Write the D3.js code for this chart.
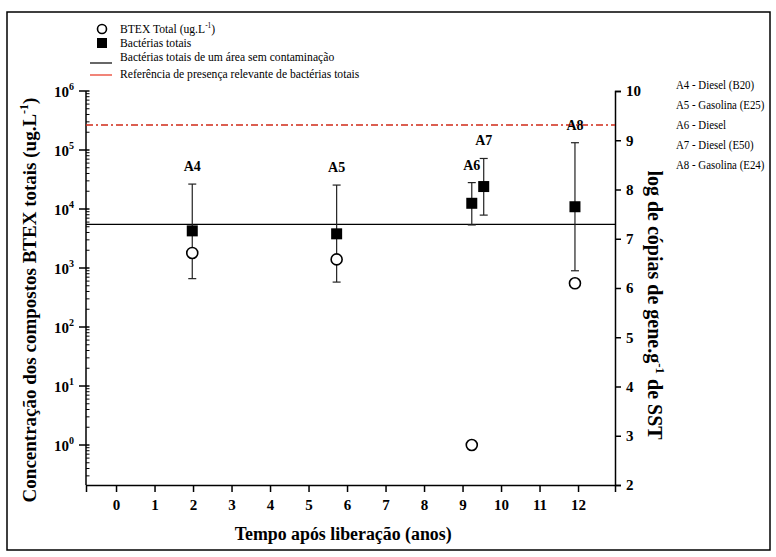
<!DOCTYPE html>
<html>
<head>
<meta charset="utf-8">
<script src="https://cdn.jsdelivr.net/npm/d3@7"></script>
<style>
  body { margin: 0; background: #fff; }
</style>
</head>
<body>
<script>
// Dados
var amostras = ["A4", "A5", "A6", "A7", "A8"];
var tempo = [1.98, 5.73, 9.24, 9.55, 11.92];
var btex = [1800, 1400, 1.0, null, 550];          // ug/L, eixo esquerdo (log)
var bacterias = [7.16, 7.10, 7.72, 8.06, 7.65];   // log copias, eixo direito
var bactMin = [6.19, 6.12, 7.28, 7.48, 6.35];
var bactMax = [8.11, 8.09, 8.14, 8.63, 8.95];
var semContaminacao = 7.29;
var referencia = 9.31;
var xTicks = [0, 1, 2, 3, 4, 5, 6, 7, 8, 9, 10, 11, 12];
var yRightTicks = [2, 3, 4, 5, 6, 7, 8, 9, 10];
var yLeftExps = [0, 1, 2, 3, 4, 5, 6];
var combustiveis = ["A4 - Diesel (B20)", "A5 - Gasolina (E25)", "A6 - Diesel", "A7 - Diesel (E50)", "A8 - Gasolina (E24)"];

var svgWidth = 776;
var svgHeight = 557;
var serif = "Liberation Serif";

var margin = { top: 91, right: 161, bottom: 72, left: 86 };
var chartWidth = svgWidth - margin.left - margin.right;
var chartHeight = svgHeight - margin.top - margin.bottom;

var svg = d3.select("body")
  .append("svg")
  .attr("width", svgWidth)
  .attr("height", svgHeight)
  .attr("font-family", serif);

// texto com compressão horizontal (a fonte original é mais estreita)
function addText(parent, x, y, size, sx) {
  return parent.append("text")
    .attr("transform", `translate(${x}, ${y}) scale(${sx}, 1)`)
    .attr("font-size", size);
}

// moldura
svg.append("rect")
  .attr("x", 7).attr("y", 12)
  .attr("width", 763).attr("height", 538)
  .attr("fill", "none")
  .attr("stroke", "black")
  .attr("stroke-width", 1.5);

var chartGroup = svg.append("g")
  .attr("transform", `translate(${margin.left}, ${margin.top})`);

// escalas
var xScale = d3.scaleLinear().domain([-0.78, 12.96]).range([0, chartWidth]);
var yLeft = d3.scaleLog().domain([0.21, 1e6]).range([chartHeight, 0]);
var yRight = d3.scaleLinear().domain([2, 10]).range([chartHeight, 0]);

// eixo x
var bottomAxis = d3.axisBottom(xScale).tickValues(xTicks).tickSizeOuter(0).tickSize(7).tickPadding(7);
var gx = chartGroup.append("g")
  .attr("transform", `translate(0, ${chartHeight})`)
  .call(bottomAxis)
  .attr("font-family", serif);
gx.selectAll("text").attr("font-size", 15).attr("font-weight", "bold");

// eixo direito
var rightAxis = d3.axisRight(yRight).tickValues(yRightTicks).tickSizeOuter(0).tickSize(6).tickPadding(5);
var gr = chartGroup.append("g")
  .attr("transform", `translate(${chartWidth}, 0)`)
  .call(rightAxis)
  .attr("font-family", serif);
gr.selectAll("text").attr("font-size", 15).attr("font-weight", "bold");

// eixo esquerdo (log) - linha, ticks maiores e menores
var minorVals = [];
for (var e = -1; e < 6; e++) {
  for (var m = 2; m <= 9; m++) {
    var v = m * Math.pow(10, e);
    if (v >= 0.21 && v <= 1e6) minorVals.push(v);
  }
}
var gl = chartGroup.append("g");
gl.append("line")
  .attr("x1", 0).attr("x2", 0)
  .attr("y1", 0).attr("y2", chartHeight)
  .attr("stroke", "black").attr("stroke-width", 1.5);
gl.selectAll(".minor")
  .data(minorVals)
  .enter()
  .append("line")
  .attr("x1", 0).attr("x2", 3.5)
  .attr("y1", d => yLeft(d)).attr("y2", d => yLeft(d))
  .attr("stroke", "black");
var major = gl.selectAll(".major")
  .data(yLeftExps)
  .enter()
  .append("g")
  .attr("transform", d => `translate(0, ${yLeft(Math.pow(10, d))})`);
major.append("line")
  .attr("x1", -7).attr("x2", 3.5)
  .attr("stroke", "black").attr("stroke-width", 1.5);
var lbl = major.append("text")
  .attr("x", -12).attr("y", 6)
  .attr("text-anchor", "end")
  .attr("font-size", 15)
  .attr("font-weight", "bold");
lbl.append("tspan").text("10");
lbl.append("tspan").attr("dy", -7).attr("font-size", 10).text(d => d);

chartGroup.selectAll(".domain").attr("stroke-width", 1.5);
chartGroup.selectAll(".tick line").attr("stroke-width", 1.5);

// linhas de referência
chartGroup.append("line")
  .attr("x1", 0).attr("x2", chartWidth)
  .attr("y1", yRight(semContaminacao)).attr("y2", yRight(semContaminacao))
  .attr("stroke", "black").attr("stroke-width", 1.3);
chartGroup.append("line")
  .attr("x1", 0).attr("x2", chartWidth)
  .attr("y1", yRight(referencia)).attr("y2", yRight(referencia))
  .attr("stroke", "#cf2a18").attr("stroke-width", 1.3)
  .attr("stroke-dasharray", "7,3,2,3");

// barras de erro
var idx = d3.range(amostras.length);
var err = chartGroup.selectAll(".err").data(idx).enter().append("g");
err.append("line")
  .attr("x1", i => xScale(tempo[i])).attr("x2", i => xScale(tempo[i]))
  .attr("y1", i => yRight(bactMin[i])).attr("y2", i => yRight(bactMax[i]))
  .attr("stroke", "#222").attr("stroke-width", 1.2);
[bactMin, bactMax].forEach(function(arr) {
  err.append("line")
    .attr("x1", i => xScale(tempo[i]) - 4).attr("x2", i => xScale(tempo[i]) + 4)
    .attr("y1", i => yRight(arr[i])).attr("y2", i => yRight(arr[i]))
    .attr("stroke", "#222").attr("stroke-width", 1.2);
});

// BTEX (círculos)
chartGroup.selectAll(".btex")
  .data(idx.filter(i => btex[i] !== null))
  .enter()
  .append("circle")
  .attr("cx", i => xScale(tempo[i]))
  .attr("cy", i => yLeft(btex[i]))
  .attr("r", 5.5)
  .attr("fill", "white")
  .attr("stroke", "black")
  .attr("stroke-width", 1.6);

// bactérias (quadrados)
chartGroup.selectAll(".bact")
  .data(idx)
  .enter()
  .append("rect")
  .attr("x", i => xScale(tempo[i]) - 5.5)
  .attr("y", i => yRight(bacterias[i]) - 5.5)
  .attr("width", 11).attr("height", 11)
  .attr("fill", "black");

// rótulos das amostras
chartGroup.selectAll(".amostra")
  .data(idx)
  .enter()
  .append("text")
  .attr("x", i => xScale(tempo[i]))
  .attr("y", i => yRight(bactMax[i]) - 13)
  .attr("text-anchor", "middle")
  .attr("font-size", 14)
  .attr("font-weight", "bold")
  .text(i => amostras[i]);

// títulos dos eixos
addText(svg, margin.left + xScale(5.9), 540, 19, 0.94)
  .attr("text-anchor", "middle")
  .attr("font-weight", "bold")
  .text("Tempo após liberação (anos)");

var tl = svg.append("text")
  .attr("transform", "translate(36, 300) rotate(-90)")
  .attr("text-anchor", "middle")
  .attr("font-size", 19)
  .attr("font-weight", "bold");
tl.append("tspan").text("Concentração dos compostos BTEX totais (ug.L");
tl.append("tspan").attr("dy", -8).attr("font-size", 12).text("-1");
tl.append("tspan").attr("dy", 8).text(")");

var tr = svg.append("text")
  .attr("transform", "translate(648, 305) rotate(90)")
  .attr("text-anchor", "middle")
  .attr("font-size", 20)
  .attr("font-weight", "bold");
tr.append("tspan").text("log de cópias de gene.g");
tr.append("tspan").attr("dy", -8).attr("font-size", 13).text("-1");
tr.append("tspan").attr("dy", 8).text(" de SST");

// lista de combustíveis
combustiveis.forEach(function(c, i) {
  addText(svg, 676, 89 + i * 20, 12.5, 0.87).text(c);
});

// legenda
var leg = svg.append("g");
leg.append("circle").attr("cx", 102).attr("cy", 29).attr("r", 4.5)
  .attr("fill", "white").attr("stroke", "black").attr("stroke-width", 1.6);
leg.append("rect").attr("x", 97).attr("y", 38).attr("width", 10).attr("height", 10).attr("fill", "black");
leg.append("line").attr("x1", 90).attr("x2", 112).attr("y1", 63).attr("y2", 63)
  .attr("stroke", "black").attr("stroke-width", 1.2);
leg.append("line").attr("x1", 90).attr("x2", 112).attr("y1", 75).attr("y2", 75)
  .attr("stroke", "#e8311e").attr("stroke-width", 1.2);
var t1 = addText(leg, 120, 33, 12.5, 0.93);
t1.append("tspan").text("BTEX Total (ug.L");
t1.append("tspan").attr("dy", -5).attr("font-size", 8).text("-1");
t1.append("tspan").attr("dy", 5).text(")");
addText(leg, 120, 47, 12.5, 0.93).text("Bactérias totais");
addText(leg, 120, 61, 12.5, 0.93).text("Bactérias totais de um área sem contaminação");
addText(leg, 120, 78, 12.5, 0.93).text("Referência de presença relevante de bactérias totais");
</script>
</body>
</html>
